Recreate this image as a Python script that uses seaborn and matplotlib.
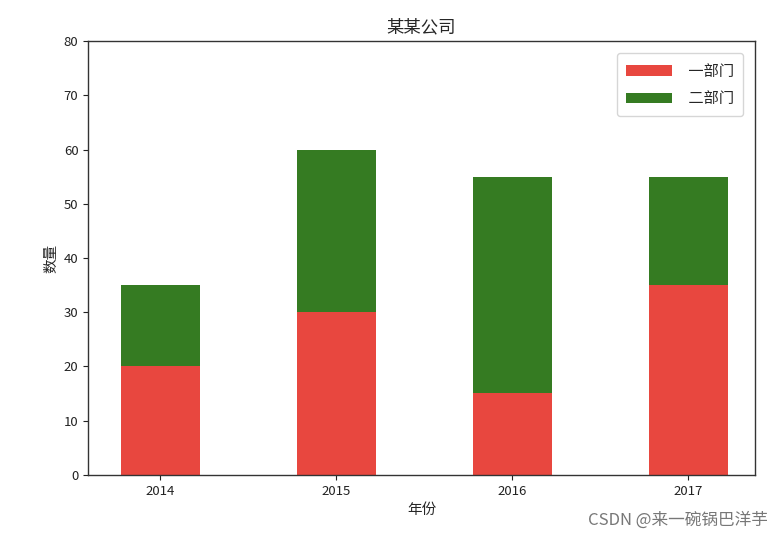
import matplotlib
matplotlib.use("Agg")
import matplotlib.pyplot as plt
import seaborn as sns
import pandas as pd

years = ["2014", "2015", "2016", "2017"]
dept1 = [20, 30, 15, 35]
dept2 = [15, 30, 40, 20]
labels = ["一部门", "二部门"]

sns.set_style("ticks")
plt.rcParams['font.family'] = ['Noto Sans CJK SC', 'DejaVu Sans']
plt.rcParams['axes.unicode_minus'] = False

df = pd.DataFrame({"year": years, "d1": dept1, "d2": dept2})
df["total"] = df["d1"] + df["d2"]

fig = plt.figure(figsize=(7.8, 5.42), dpi=100)
ax = fig.add_axes([0.113, 0.124, 0.855, 0.80])

red = "#e8473f"
green = "#357b22"
sns.barplot(data=df, x="year", y="total", order=years, color=green, width=0.45,
            saturation=1, ax=ax, label=labels[1], linewidth=0, edgecolor="none")
sns.barplot(data=df, x="year", y="d1", order=years, color=red, width=0.45,
            saturation=1, ax=ax, label=labels[0], linewidth=0, edgecolor="none")

ax.set_ylim(0, 80)
ax.set_xlim(-0.41, 3.38)
ax.set_yticks(range(0, 81, 10))
ax.set_title("某某公司", fontsize=12.5)
ax.set_xlabel("年份", fontsize=10.5)
ax.set_ylabel("数量", fontsize=10.5)
for s in ax.spines.values():
    s.set_color("#333333")
    s.set_linewidth(1.0)
ax.tick_params(colors="#222222", labelsize=9.5)

h, l = ax.get_legend_handles_labels()
order = [l.index(labels[0]), l.index(labels[1])]
ax.legend([h[i] for i in order], [" " + labels[0], " " + labels[1]],
          loc="upper right", fontsize=11, frameon=True, handlelength=3.0,
          labelspacing=0.7, borderpad=0.6, borderaxespad=0.8)

fig.text(0.985, 0.025, "CSDN @来一碗锅巴洋芋", ha="right", va="bottom",
         fontsize=12, color="#777777")

fig.savefig("out.png", dpi=100)
